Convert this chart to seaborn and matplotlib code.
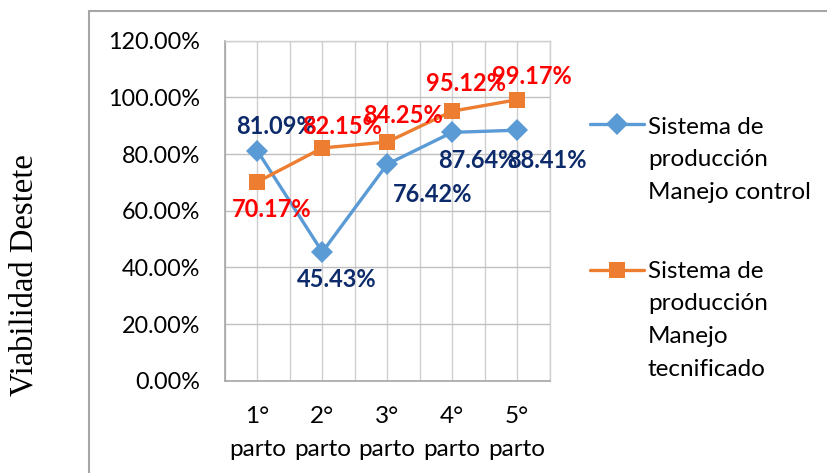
import matplotlib
matplotlib.use("Agg")
import matplotlib.pyplot as plt
from matplotlib.lines import Line2D
from matplotlib.ticker import FuncFormatter, MultipleLocator
import pandas as pd
import seaborn as sns

# Weaning viability per calving number for both production systems
categories = ["1°\nparto", "2°\nparto", "3°\nparto", "4°\nparto", "5°\nparto"]
control = [81.09, 45.43, 76.42, 87.64, 88.41]
tecnificado = [70.17, 82.15, 84.25, 95.12, 99.17]
series_names = ["Sistema de\nproducción\nManejo control",
                "Sistema de\nproducción\nManejo\ntecnificado"]
y_ticks = [0, 20, 40, 60, 80, 100, 120]

# label placement (pixel offsets from each marker)
control_offsets = [(19, -24), (14, 28), (45, 30), (26, 28), (30, 30)]
tecnificado_offsets = [(14, 28), (20, -21), (16, -26), (14, -28), (15, -23)]

BLUE = "#5B9BD5"
ORANGE = "#ED7D31"
NAVY = "#0D2B6B"
RED = "#FF0000"
FONT = "Lato"
FS = 17.5

sns.set_theme(style="white")
plt.rcParams["font.family"] = [FONT, "DejaVu Sans"]

df = pd.DataFrame({
    "parto": categories * 2,
    "valor": control + tecnificado,
    "sistema": [series_names[0]] * len(control) + [series_names[1]] * len(tecnificado),
})

fig = plt.figure(figsize=(8.27, 4.73), dpi=100)
ax = fig.add_axes([225 / 827, 1 - 380.7 / 473, 324.5 / 827, 340 / 473])

sns.lineplot(data=df, x="parto", y="valor", hue="sistema", style="sistema",
             palette=[BLUE, ORANGE], markers=["D", "s"], dashes=False,
             linewidth=2.4, markersize=11, markeredgewidth=0,
             sort=False, legend=False, ax=ax)

ax.set_xlim(-0.5, len(categories) - 0.5)
ax.set_ylim(0, 120)
ax.set_yticks(y_ticks)
ax.yaxis.set_major_formatter(FuncFormatter(lambda v, _: f"{v:.2f}%"))
ax.xaxis.set_minor_locator(MultipleLocator(0.5))
ax.grid(True, which="major", axis="y", color="#BFBFBF", linewidth=1.0)
ax.grid(True, which="both", axis="x", color="#CFCFCF", linewidth=1.0)
ax.set_axisbelow(True)
ax.set_xlabel("")
ax.set_ylabel("")
for side in ["left", "bottom"]:
    ax.spines[side].set_color("#A6A6A6")
    ax.spines[side].set_linewidth(1.2)
for side in ["top", "right"]:
    ax.spines[side].set_color("#CFCFCF")
    ax.spines[side].set_linewidth(1.0)
ax.tick_params(axis="both", which="both", length=0, labelcolor="black")
ax.tick_params(axis="y", pad=18, labelsize=16.8)
ax.tick_params(axis="x", pad=18, labelsize=FS)
for lbl in ax.get_xticklabels():
    lbl.set_linespacing(1.72)

# data labels
px = 0.72
for vals, offs, col in [(control, control_offsets, NAVY),
                        (tecnificado, tecnificado_offsets, RED)]:
    for cat, v, (dx, dy) in zip(categories, vals, offs):
        ax.annotate(f"{v:.2f}%", xy=(cat, v), xytext=(dx * px, -dy * px),
                    textcoords="offset points", ha="center", va="center",
                    fontsize=17, fontweight="bold", color=col)

# legend drawn beside the plot area: handle, then one text line per row
line_step = 32.5
handle_specs = [(BLUE, "D", 124, 134), (ORANGE, "s", 270, 278)]
for (col, mk, yy, base), name in zip(handle_specs, series_names):
    yf = 1 - yy / 473
    fig.add_artist(Line2D([590 / 827, 644 / 827], [yf, yf], color=col,
                          linewidth=2.4, transform=fig.transFigure))
    fig.add_artist(Line2D([617 / 827], [yf], color=col, marker=mk,
                          markersize=11, markeredgewidth=0,
                          transform=fig.transFigure))
    for k, row in enumerate(name.split("\n")):
        fig.text(648 / 827, 1 - (base + k * line_step) / 473, row,
                 ha="left", va="baseline", fontsize=FS, color="black",
                 transform=fig.transFigure)

# y-axis title
fig.text(24 / 827, 1 - 275 / 473, "Viabilidad Destete", rotation=90,
         ha="center", va="center", fontsize=23.5, family="Liberation Serif",
         color="black")

# chart frame
fig.add_artist(Line2D([89 / 827, 89 / 827], [0, 1 - 11 / 473],
                      color="#A6A6A6", linewidth=1.5, transform=fig.transFigure))
fig.add_artist(Line2D([89 / 827, 1], [1 - 11 / 473, 1 - 11 / 473],
                      color="#A6A6A6", linewidth=1.5, transform=fig.transFigure))

fig.savefig("out.png", dpi=100)
